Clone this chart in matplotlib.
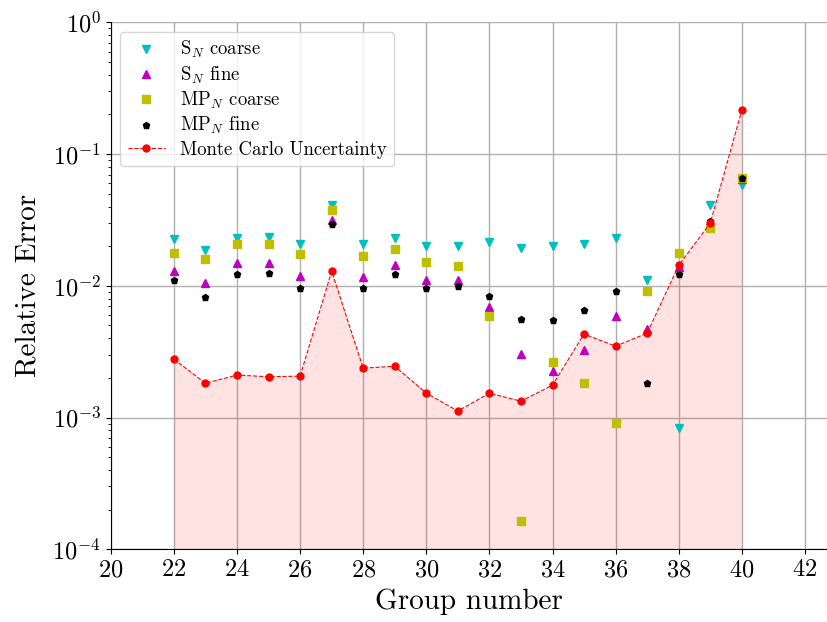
import numpy as np
import matplotlib
matplotlib.use("Agg")
import matplotlib.pyplot as plt

plt.rcParams["font.family"] = "serif"
plt.rcParams["font.serif"] = ["cmr10"]
plt.rcParams["mathtext.fontset"] = "cm"
plt.rcParams["axes.formatter.use_mathtext"] = True

groups = [22, 23, 24, 25, 26, 27, 28, 29, 30, 31, 32, 33, 34, 35, 36, 37, 38, 39, 40]
sn_coarse = [2.28e-2, 1.88e-2, 2.31e-2, 2.34e-2, 2.06e-2, 4.14e-2, 2.06e-2, 2.32e-2, 2.01e-2, 2.01e-2,
             2.15e-2, 1.93e-2, 1.99e-2, 2.07e-2, 2.31e-2, 1.11e-2, 8.26e-4, 4.14e-2, 5.80e-2]
sn_fine = [1.30e-2, 1.05e-2, 1.49e-2, 1.49e-2, 1.18e-2, 3.18e-2, 1.16e-2, 1.43e-2, 1.10e-2, 1.10e-2,
           6.92e-3, 3.06e-3, 2.25e-3, 3.25e-3, 5.91e-3, 4.74e-3, 1.39e-2, 2.90e-2, 6.50e-2]
mp_coarse = [1.77e-2, 1.61e-2, 2.09e-2, 2.08e-2, 1.73e-2, 3.77e-2, 1.67e-2, 1.90e-2, 1.51e-2, 1.41e-2,
             5.85e-3, 1.64e-4, 2.62e-3, 1.83e-3, 9.02e-4, 9.21e-3, 1.76e-2, 2.75e-2, 6.55e-2]
mp_fine = [1.11e-2, 8.20e-3, 1.24e-2, 1.25e-2, 9.64e-3, 2.95e-2, 9.64e-3, 1.24e-2, 9.64e-3, 1.00e-2,
           8.38e-3, 5.55e-3, 5.48e-3, 6.56e-3, 9.15e-3, 1.83e-3, 1.22e-2, 3.11e-2, 6.55e-2]
mc_unc = [2.77e-3, 1.82e-3, 2.10e-3, 2.04e-3, 2.06e-3, 1.29e-2, 2.37e-3, 2.45e-3, 1.53e-3, 1.12e-3,
          1.53e-3, 1.33e-3, 1.76e-3, 4.30e-3, 3.48e-3, 4.37e-3, 1.43e-2, 2.99e-2, 0.215]

fig = plt.figure(figsize=(8.27, 6.22), dpi=100)
ax = fig.add_axes([0.134, 0.117, 0.866, 0.847])

ax.fill_between(groups, mc_unc, 1e-5, color="red", alpha=0.11, lw=0, zorder=1)
ax.plot(groups, sn_coarse, "cv", ms=6, ls="none", label=r"S$_N$ coarse", zorder=3)
ax.plot(groups, sn_fine, "m^", ms=6, ls="none", label=r"S$_N$ fine", zorder=3)
ax.plot(groups, mp_coarse, "ys", ms=5.5, ls="none", label=r"MP$_N$ coarse", zorder=3)
ax.plot(groups, mp_fine, "kp", ms=4.5, ls="none", label=r"MP$_N$ fine", zorder=3)
ax.plot(groups, mc_unc, "r--", marker="o", ms=5, lw=0.8, label="Monte Carlo Uncertainty", zorder=4)

ax.set_yscale("log")
ax.set_ylim(1e-4, 1)
ax.set_xlim(20, 42.7)
ax.set_xticks(range(20, 43, 2))
ax.grid(True, which="major", color="#b0b0b0", lw=1.0)
ax.set_axisbelow(True)
ax.spines["top"].set_visible(False)
ax.spines["right"].set_visible(False)
ax.tick_params(labelsize=17.5)
ax.set_xlabel("Group number", fontsize=21, labelpad=5)
ax.set_ylabel("Relative Error", fontsize=21, labelpad=8)
ax.legend(loc="upper left", fontsize=13.5, labelspacing=0.22)

fig.savefig("out.png", dpi=100)
